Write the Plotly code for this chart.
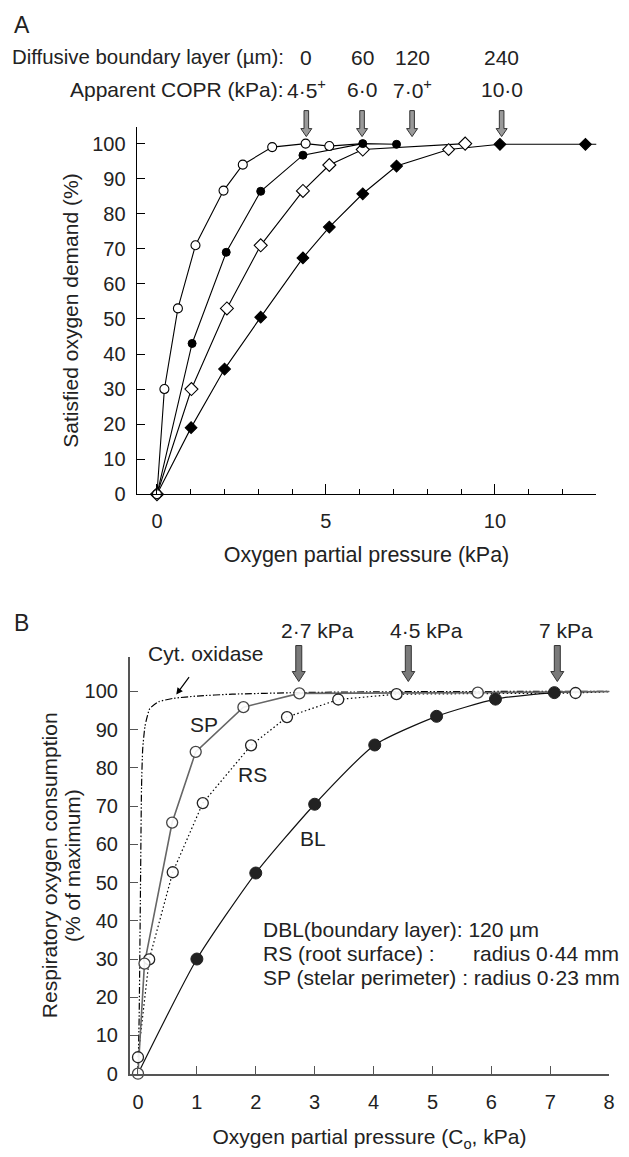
import plotly.graph_objects as go

W, H = 629, 1157
FONT = "Liberation Sans, Arial, Helvetica, sans-serif"

# ---------------- Panel A data ----------------
A_dbl_labels = ["0", "60", "120", "240"]
A_copr_labels = ["4·5<sup>+</sup>", "6·0", "7·0<sup>+</sup>", "10·0"]
A_arrow_x = [4.42, 6.07, 7.55, 10.2]
A_arrow_tip = 102.0

A_oc_x = [0, 0.22, 0.62, 1.14, 1.97, 2.54, 3.41, 4.4, 5.1]
A_oc_y = [0, 30, 53, 71, 86.6, 94, 99, 100, 99.3]
A_oc_tail_x = [6.09]
A_oc_tail_y = [100]

A_fc_x = [0, 1.04, 2.05, 3.07, 4.32, 6.09, 7.09]
A_fc_y = [0, 43, 69, 86.4, 96.7, 100, 99.8]

A_od_x = [0, 1.02, 2.07, 3.07, 4.32, 5.1, 6.09, 9.12]
A_od_y = [0, 30, 53, 71, 86.5, 93.9, 98.3, 100]

A_fd_x = [0, 1.01, 2.0, 3.07, 4.32, 5.1, 6.09, 7.09, 8.63, 10.15, 12.68]
A_fd_y = [0, 19, 35.7, 50.5, 67.4, 76.2, 85.7, 93.6, 98.3, 99.8, 99.8]
A_fd_tail_x = [13.15]
A_fd_tail_y = [99.8]
A_fd_open_index = 8

# ---------------- Panel B data ----------------
B_arrow_labels = ["2·7 kPa", "4·5 kPa", "7 kPa"]
B_arrow_x = [2.73, 4.59, 7.12]
B_arrow_tip = 102.6

B_cyt_x = [0, 0.02, 0.04, 0.06, 0.08, 0.12, 0.2, 0.35, 0.6, 1.0, 1.6, 2.7, 4, 6, 8.1]
B_cyt_y = [0, 15, 45, 75, 85, 91, 95.5, 97.3, 98.2, 98.8, 99.3, 99.7, 99.9, 100, 100]

B_sp_x = [0, 0.11, 0.58, 0.98, 1.79, 2.74, 5.77]
B_sp_y = [0, 28.8, 65.7, 84.2, 95.9, 99.5, 99.7]
B_sp_tail_x = [8.1]
B_sp_tail_y = [100]

B_rs_x = [0, 0.19, 0.59, 1.1, 1.92, 2.53, 3.4, 4.39, 7.43]
B_rs_y = [4.3, 29.9, 52.7, 70.8, 85.9, 93.3, 97.9, 99.3, 99.6]
B_rs_tail_x = [8.1]
B_rs_tail_y = [100]

B_bl_x = [1.0, 2.0, 3.0, 4.02, 5.07, 6.07, 7.07]
B_bl_y = [30, 52.5, 70.5, 86, 93.5, 98, 99.7]
B_bl_head_x = [0]
B_bl_head_y = [0]
B_bl_tail_x = [8.1]
B_bl_tail_y = [100]

B_curve_labels = ["SP", "RS", "BL"]
B_curve_label_x = [1.12, 1.94, 2.98]
B_curve_label_y = [91.3, 78.3, 61.5]

# ---------------- layout geometry ----------------
def px(x):
    return x / W

def py(y):
    return 1 - y / H

A_xrange = [-0.6, 13.0]
A_yrange = [0, 104.8]
B_xrange = [-0.14, 8.0]
B_yrange = [0, 109.1]

fig = go.Figure()

# ---- Panel A traces ----
lineA = dict(color="black", width=1.1)
fig.add_trace(go.Scatter(x=A_oc_x + A_oc_tail_x, y=A_oc_y + A_oc_tail_y, mode="lines",
                         line=lineA, xaxis="x", yaxis="y", hoverinfo="skip"))
fig.add_trace(go.Scatter(x=A_od_x, y=A_od_y, mode="lines", line=lineA, xaxis="x", yaxis="y"))
fig.add_trace(go.Scatter(x=A_fd_x + A_fd_tail_x, y=A_fd_y + A_fd_tail_y, mode="lines",
                         line=lineA, xaxis="x", yaxis="y"))
fig.add_trace(go.Scatter(x=A_fc_x, y=A_fc_y, mode="lines", line=lineA, xaxis="x", yaxis="y"))

fig.add_trace(go.Scatter(x=A_oc_x, y=A_oc_y, mode="markers", cliponaxis=False,
                         marker=dict(symbol="circle", size=9, color="white",
                                     line=dict(color="black", width=1.1)),
                         xaxis="x", yaxis="y"))
fig.add_trace(go.Scatter(x=A_od_x, y=A_od_y, mode="markers", cliponaxis=False,
                         marker=dict(symbol="diamond", size=10, color="white",
                                     line=dict(color="black", width=1.1)),
                         xaxis="x", yaxis="y"))
fd_colors = ["black"] * len(A_fd_x)
fd_colors[A_fd_open_index] = "white"
fig.add_trace(go.Scatter(x=A_fd_x[1:], y=A_fd_y[1:], mode="markers", cliponaxis=False,
                         marker=dict(symbol="diamond", size=9, color=fd_colors[1:],
                                     line=dict(color="black", width=1.1)),
                         xaxis="x", yaxis="y"))
fig.add_trace(go.Scatter(x=A_fc_x[1:], y=A_fc_y[1:], mode="markers", cliponaxis=False,
                         marker=dict(symbol="circle", size=8, color="black",
                                     line=dict(color="black", width=1)),
                         xaxis="x", yaxis="y"))
fig.add_trace(go.Scatter(x=A_oc_x[:1], y=A_oc_y[:1], mode="markers", cliponaxis=False,
                         marker=dict(symbol="circle", size=9, color="white",
                                     line=dict(color="black", width=1.1)),
                         xaxis="x", yaxis="y"))

# ---- Panel B traces ----
fig.add_trace(go.Scatter(x=B_cyt_x, y=B_cyt_y, mode="lines",
                         line=dict(color="black", width=1.2, dash="7px,2px,1.5px,2px,1.5px,2px",
                                   shape="spline", smoothing=0.5),
                         xaxis="x2", yaxis="y2"))
fig.add_trace(go.Scatter(x=B_bl_head_x + B_bl_x + B_bl_tail_x,
                         y=B_bl_head_y + B_bl_y + B_bl_tail_y, mode="lines",
                         line=dict(color="#111", width=1.2, shape="spline", smoothing=0.6),
                         xaxis="x2", yaxis="y2"))
fig.add_trace(go.Scatter(x=B_rs_x + B_rs_tail_x, y=B_rs_y + B_rs_tail_y, mode="lines",
                         line=dict(color="black", width=1.2, dash="1.5px,2.5px"),
                         xaxis="x2", yaxis="y2"))
fig.add_trace(go.Scatter(x=B_sp_x + B_sp_tail_x, y=B_sp_y + B_sp_tail_y, mode="lines",
                         line=dict(color="#666", width=1.6),
                         xaxis="x2", yaxis="y2"))
fig.add_trace(go.Scatter(x=B_bl_x, y=B_bl_y, mode="markers", cliponaxis=False,
                         marker=dict(symbol="circle", size=12, color="#222",
                                     line=dict(color="#222", width=1)),
                         xaxis="x2", yaxis="y2"))
fig.add_trace(go.Scatter(x=B_rs_x, y=B_rs_y, mode="markers", cliponaxis=False,
                         marker=dict(symbol="circle", size=11, color="rgba(255,255,255,0.9)",
                                     line=dict(color="#222", width=1.3)),
                         xaxis="x2", yaxis="y2"))
fig.add_trace(go.Scatter(x=B_sp_x, y=B_sp_y, mode="markers", cliponaxis=False,
                         marker=dict(symbol="circle", size=11, color="rgba(255,255,255,0.9)",
                                     line=dict(color="#444", width=1.3)),
                         xaxis="x2", yaxis="y2"))

# ---------------- axes ----------------
tickfont = dict(family=FONT, size=20, color="#222")
titlefont = dict(family=FONT, size=21, color="#222")

fig.update_layout(
    width=W, height=H,
    margin=dict(l=0, r=0, t=0, b=0),
    paper_bgcolor="white", plot_bgcolor="white",
    showlegend=False,
    font=dict(family=FONT, color="#222"),
    xaxis=dict(domain=[px(138), px(602)], range=A_xrange, anchor="y",
               showgrid=False, zeroline=False, showline=True, linecolor="black", linewidth=1.2,
               ticks="inside", ticklen=10, tickwidth=1.2, tickcolor="black",
               tickmode="array", tickvals=[0, 5, 10], ticktext=["0", "5", "10"],
               minor=dict(tickmode="array", tickvals=list(range(0, 14)), ticks="inside",
                          ticklen=5, tickwidth=1.2, tickcolor="black", showgrid=False),
               tickfont=tickfont, ticklabelstandoff=9,
               title=dict(text="Oxygen partial pressure (kPa)",
                          font=dict(family=FONT, size=21.5, color="#222"), standoff=15)),
    yaxis=dict(domain=[py(499), py(128)], range=A_yrange, anchor="x",
               showgrid=False, zeroline=False, showline=True, linecolor="black", linewidth=1.2,
               ticks="inside", ticklen=8, tickwidth=1.2, tickcolor="black",
               tickmode="array", tickvals=list(range(0, 101, 10)),
               tickfont=tickfont, ticklabelstandoff=6,
               title=dict(text="Satisfied oxygen demand (%)", font=titlefont, standoff=7)),
    xaxis2=dict(domain=[px(131), px(615)], range=B_xrange, anchor="y2",
                showgrid=False, zeroline=False, showline=True, linecolor="#555", linewidth=1.6,
                ticks="inside", ticklen=8, tickwidth=1.4, tickcolor="#555",
                tickmode="array", tickvals=list(range(0, 9)),
                tickfont=tickfont, ticklabelstandoff=10,
                title=dict(text="Oxygen partial pressure (C<sub>o</sub>, kPa)", font=titlefont,
                           standoff=17)),
    yaxis2=dict(domain=[py(1084), py(663)], range=B_yrange, anchor="x2",
                showgrid=False, zeroline=False, showline=True, linecolor="#555", linewidth=1.6,
                ticks="inside", ticklen=8, tickwidth=1.4, tickcolor="#555",
                tickmode="array", tickvals=list(range(0, 101, 10)),
                tickfont=tickfont, ticklabelstandoff=6),
)

# ---------------- arrows ----------------
def arrow_path(h, hh, hw, sw):
    return (f"M0,0 L{-hw},{hh} L{-sw},{hh} L{-sw},{h} L{sw},{h} "
            f"L{sw},{hh} L{hw},{hh} Z")

shapes = []
for xv in A_arrow_x:
    shapes.append(dict(type="path", xref="x", yref="y domain",
                       xsizemode="pixel", ysizemode="pixel",
                       xanchor=xv, yanchor=A_arrow_tip / A_yrange[1],
                       path=arrow_path(26, 8, 5.5, 2.3),
                       fillcolor="#9a9a9a", line=dict(color="#333", width=1), layer="above"))
for xv in B_arrow_x:
    shapes.append(dict(type="path", xref="x2", yref="y2 domain",
                       xsizemode="pixel", ysizemode="pixel",
                       xanchor=xv, yanchor=B_arrow_tip / B_yrange[1],
                       path=arrow_path(36, 10, 6.5, 3),
                       fillcolor="#7a7a7a", line=dict(color="#333", width=1), layer="above"))
fig.update_layout(shapes=shapes)

# ---------------- annotations ----------------
ann = []
ann.append(dict(text="A", x=px(12), y=py(25), xref="paper", yref="paper",
                xanchor="left", yanchor="middle", showarrow=False,
                font=dict(family=FONT, size=23, color="#222")))
ann.append(dict(text="B", x=px(12), y=py(629), xref="paper", yref="paper",
                xanchor="left", yanchor="middle", showarrow=False,
                font=dict(family=FONT, size=23, color="#222")))
ann.append(dict(text="Diffusive boundary layer (µm):", x=px(289), y=py(58), xref="paper",
                yref="paper", xanchor="right", yanchor="middle", showarrow=False,
                font=dict(family=FONT, size=20.4, color="#222")))
ann.append(dict(text="Apparent COPR (kPa):", x=px(289), y=py(90), xref="paper",
                yref="paper", xanchor="right", yanchor="middle", showarrow=False, font=titlefont))
for xv, t1, t2 in zip(A_arrow_x, A_dbl_labels, A_copr_labels):
    ann.append(dict(text=t1, x=xv, y=py(58), xref="x", yref="paper", xanchor="center",
                    yanchor="middle", showarrow=False, font=titlefont))
    ann.append(dict(text=t2, x=xv, y=py(90), xref="x", yref="paper", xanchor="center",
                    yanchor="middle", showarrow=False, font=titlefont))

for xv, t in zip(B_arrow_x, B_arrow_labels):
    ann.append(dict(text=t, x=xv, y=py(637), xref="x2", yref="paper", xanchor="left",
                    xshift=-20, yanchor="middle", showarrow=False, font=titlefont))

for t, xv, yv in zip(B_curve_labels, B_curve_label_x, B_curve_label_y):
    ann.append(dict(text=t, x=xv, y=yv, xref="x2", yref="y2", xanchor="center",
                    yanchor="middle", showarrow=False, font=titlefont))

ann.append(dict(text="Cyt. oxidase", x=0.65, y=99.2, xref="x2", yref="y2",
                ax=30, ay=-41, axref="pixel", ayref="pixel",
                showarrow=True, arrowhead=2, arrowsize=1.1, arrowwidth=1.2,
                arrowcolor="black", standoff=0, startstandoff=13, font=titlefont))

# Panel B y-axis title (two lines)
ann.append(dict(text="Respiratory oxygen consumption", x=px(50), y=py(874), xref="paper",
                yref="paper", xanchor="center", yanchor="middle", textangle=-90,
                showarrow=False, font=titlefont))
ann.append(dict(text="(% of maximum)", x=px(73), y=py(874), xref="paper",
                yref="paper", xanchor="center", yanchor="middle", textangle=-90,
                showarrow=False, font=titlefont))

ann.append(dict(text="DBL(boundary layer): 120 µm", x=px(264), y=py(938), xref="paper",
                yref="paper", xanchor="left", yanchor="middle", showarrow=False, font=titlefont))
ann.append(dict(text="RS (root surface) :", x=px(264), y=py(963), xref="paper",
                yref="paper", xanchor="left", yanchor="middle", showarrow=False, font=titlefont))
ann.append(dict(text="radius 0·44 mm", x=px(476), y=py(963), xref="paper",
                yref="paper", xanchor="left", yanchor="middle", showarrow=False, font=titlefont))
ann.append(dict(text="SP (stelar perimeter) : radius 0·23 mm", x=px(264), y=py(987),
                xref="paper", yref="paper", xanchor="left", yanchor="middle",
                showarrow=False, font=titlefont))

fig.update_layout(annotations=ann)

fig.write_html("out.html")
